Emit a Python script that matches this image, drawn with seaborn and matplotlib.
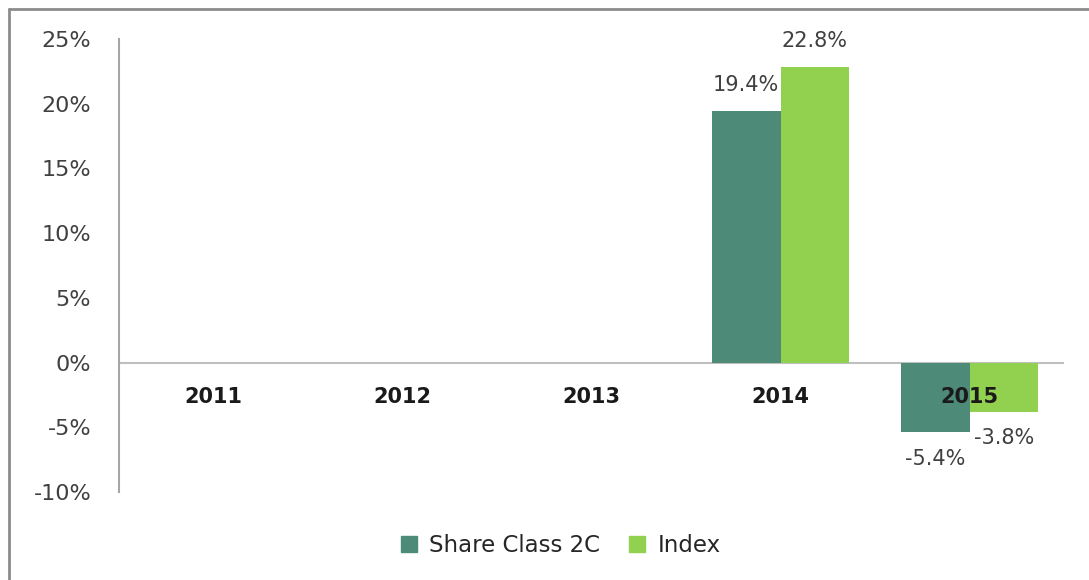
import numpy as np
import pandas as pd
import matplotlib
matplotlib.use("Agg")
import matplotlib.pyplot as plt
from matplotlib.lines import Line2D
import seaborn as sns

# Calendar-year returns (%)
years = ["2011", "2012", "2013", "2014", "2015"]
share_class = [np.nan, np.nan, np.nan, 19.4, -5.4]
index_ret = [np.nan, np.nan, np.nan, 22.8, -3.8]
series_names = ["Share Class 2C", "Index"]
y_ticks = [-10, -5, 0, 5, 10, 15, 20, 25]

colors = ["#4E8A78", "#92D050"]

df = pd.DataFrame({
    "year": years * 2,
    "series": [series_names[0]] * len(years) + [series_names[1]] * len(years),
    "ret": share_class + index_ret,
})

sns.set_theme(style="white")
plt.rcParams["font.family"] = ["DejaVu Sans"]

fig = plt.figure(figsize=(10.89, 5.80), dpi=100)
ax = fig.add_axes([119 / 1089, 88 / 580, (1064 - 119) / 1089, (541 - 88) / 580])

plot_df = df.dropna()
sns.barplot(data=plot_df, x="year", y="ret", hue="series", order=years,
            hue_order=series_names, palette=colors, width=0.73,
            saturation=1, ax=ax, errorbar=None, linewidth=0)

ax.set_xlim(-0.5, len(years) - 0.5)
ax.set_ylim(-10, 25)
ax.set_yticks(y_ticks)
ax.set_yticklabels([f"{t}%" for t in y_ticks], fontsize=16, color="#404040")
ax.tick_params(axis="y", length=0, pad=20)
ax.set_xlabel("")
ax.set_ylabel("")

# Year labels sit just under the zero line
ax.set_xticks(range(len(years)))
ax.set_xticklabels([])
ax.tick_params(axis="x", length=0)
for i, yr in enumerate(years):
    ax.annotate(yr, xy=(i, 0), xytext=(0, -25), textcoords="offset points",
                ha="center", va="center", fontsize=15, fontweight="bold",
                color="#1a1a1a", zorder=5)

for side in ["top", "right", "bottom"]:
    ax.spines[side].set_visible(False)
ax.spines["left"].set_color("#A6A6A6")
ax.spines["left"].set_linewidth(1.5)
ax.axhline(0, color="#BFBFBF", lw=1.5, zorder=0)

# Value labels
for cont in ax.containers:
    ax.bar_label(cont, labels=[f"{v:.1f}%" for v in cont.datavalues],
                 padding=12, fontsize=15, color="#404040")

# Legend at bottom
handles = [Line2D([], [], marker="s", ls="", color=c, markersize=11.5) for c in colors]
ax.legend(handles, series_names, loc="center", bbox_to_anchor=(560 / 1089, 34 / 580),
          bbox_transform=fig.transFigure, ncol=2, frameon=False, fontsize=16.5,
          handlelength=0.8, handletextpad=0.5, columnspacing=1.2, labelcolor="#262626")

# Outer frame
fig.add_artist(Line2D([9 / 1089, 9 / 1089], [0, 1 - 9 / 580], transform=fig.transFigure,
                      color="#8C8C8C", lw=2))
fig.add_artist(Line2D([9 / 1089, 1], [1 - 9 / 580, 1 - 9 / 580], transform=fig.transFigure,
                      color="#8C8C8C", lw=2))

fig.savefig("out.png", dpi=100)
